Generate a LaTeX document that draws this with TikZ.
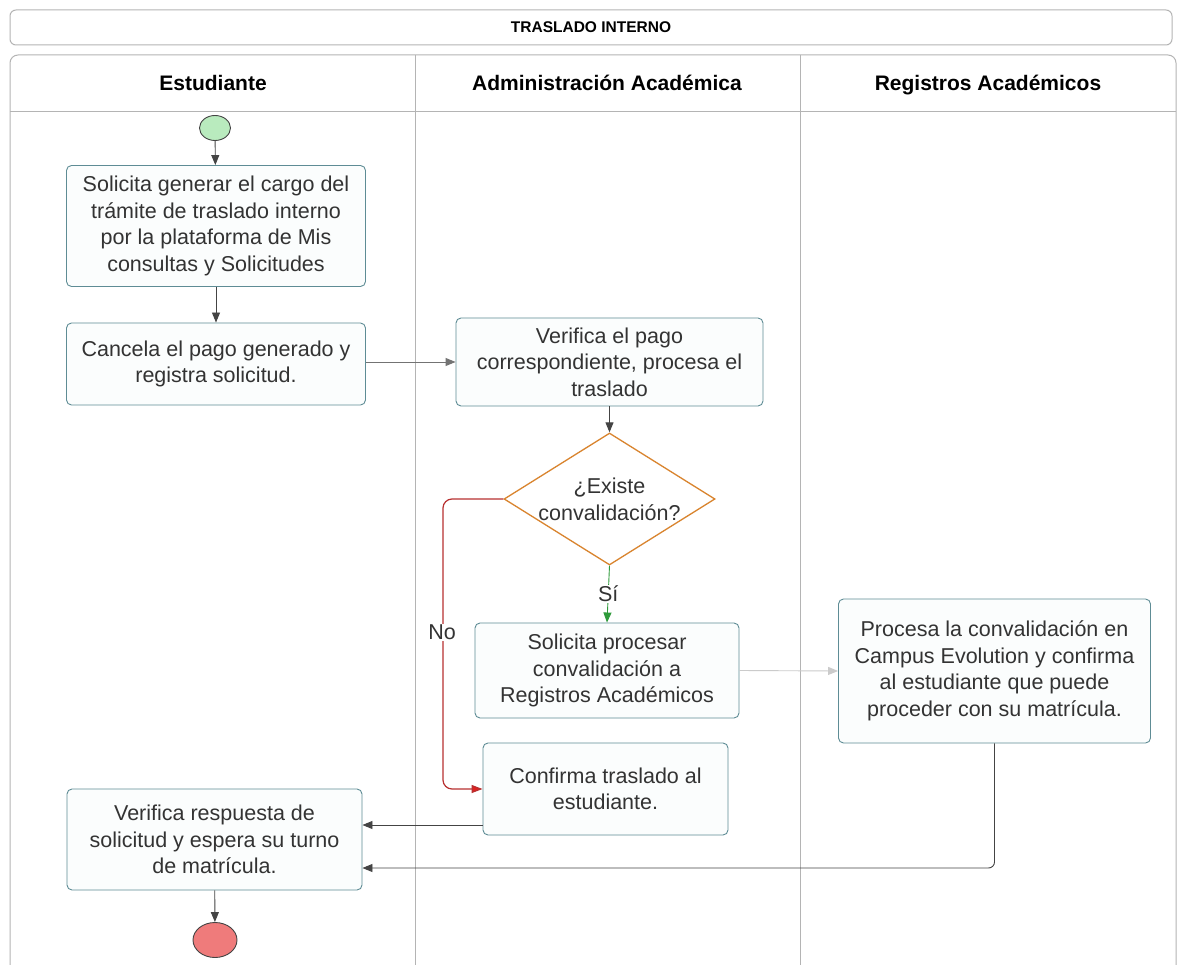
\documentclass[tikz,border=0pt]{standalone}
\usepackage{fontspec}
\setmainfont{Liberation Sans}
\usetikzlibrary{shapes.geometric,arrows.meta}
\definecolor{laneline}{HTML}{B4B4B4}
\definecolor{boxline}{HTML}{5E8C95}
\definecolor{boxfill}{HTML}{FBFDFD}
\definecolor{decline}{HTML}{D9842E}
\definecolor{flowline}{HTML}{444444}
\definecolor{noline}{HTML}{B83030}
\definecolor{notip}{HTML}{E02020}
\definecolor{yesline}{HTML}{2E9A3A}
\definecolor{startfill}{HTML}{B9EBBE}
\definecolor{endfill}{HTML}{EF7B7B}
\definecolor{txt}{HTML}{333333}
\tikzset{
  stepbox/.style={draw=boxline, fill=boxfill, rounded corners=5pt, line width=0.9pt,
    align=center, inner sep=0pt, font=\fontsize{21.5}{26.5}\selectfont, text=txt},
  decision/.style={diamond, draw=decline, fill=white, line width=1.3pt, aspect=1.6,
    align=center, inner sep=0pt, font=\fontsize{21.5}{27}\selectfont, text=txt},
  lanehead/.style={anchor=base, font=\bfseries\fontsize{21}{24}\selectfont, text=black},
  flow/.style={draw=flowline, line width=0.9pt, -{Triangle[length=10pt,width=8pt]}},
  lanestroke/.style={draw=laneline, line width=1pt},
  flowlabel/.style={fill=white, inner sep=1pt, font=\fontsize{21.5}{24}\selectfont, text=txt},
}
\begin{document}
\begin{tikzpicture}[x=1pt,y=-1pt]
\useasboundingbox (0,0) rectangle (1178,965);
\fill[white] (0,0) rectangle (1178,965);
% title bar
\node[draw=laneline, line width=1pt, rounded corners=6pt, minimum width=1162pt, minimum height=35pt,
  font=\bfseries\fontsize{15.5}{17}\selectfont, inner sep=0pt] (title) at (591,27.5) {TRASLADO INTERNO};
% pool with three lanes
\begin{scope}
\clip (0,0) rectangle (1178,965);
\draw[lanestroke, rounded corners=8pt] (10,985) -- (10,55) -- (1176,55) -- (1176,985);
\draw[lanestroke] (10,112) -- (1176,112);
\draw[lanestroke] (415,55) -- (415,965);
\draw[lanestroke] (800,55) -- (800,965);
\end{scope}
\node[lanehead] (h1) at (213,91) {Estudiante};
\node[lanehead] (h2) at (607,91) {Administración Académica};
\node[lanehead] (h3) at (988,91) {Registros Académicos};
% start / end events
\node[ellipse, draw=flowline, fill=startfill, line width=0.9pt, minimum width=31pt, minimum height=25pt, inner sep=0pt] (start) at (215,128) {};
\node[ellipse, draw=flowline, fill=endfill, line width=0.9pt, minimum width=44pt, minimum height=35pt, inner sep=0pt] (stop) at (215,940) {};
% activities
\node[stepbox, minimum width=299pt, minimum height=121pt] (b1) at (216,226) {Solicita generar el cargo del\\trámite de traslado interno\\por la plataforma de Mis\\consultas y Solicitudes};
\node[stepbox, minimum width=299pt, minimum height=82pt] (b2) at (216,364) {Cancela el pago generado y\\registra solicitud.};
\node[stepbox, minimum width=307pt, minimum height=88pt] (b3) at (609.5,362) {Verifica el pago\\correspondiente, procesa el\\traslado};
\node[decision, minimum width=211pt, minimum height=132pt] (d1) at (609.5,499) {¿Existe\\convalidación?};
\node[stepbox, minimum width=264pt, minimum height=95pt] (b4) at (607,670.5) {Solicita procesar\\convalidación a\\Registros Académicos};
\node[stepbox, minimum width=245pt, minimum height=92pt] (b5) at (605.5,789) {Confirma traslado al\\estudiante.};
\node[stepbox, minimum width=312pt, minimum height=144pt] (b6) at (994.5,671) {Procesa la convalidación en\\Campus Evolution y confirma\\al estudiante que puede\\proceder con su matrícula.};
\node[stepbox, minimum width=295pt, minimum height=101pt] (b7) at (214.5,839.5) {Verifica respuesta de\\solicitud y espera su turno\\de matrícula.};
% connectors
\draw[flow] (start) -- (b1);
\draw[flow] (b1) -- (b2);
\draw[flow, draw=flowline!75] (b2.east |- 0,362) -- (b3.west |- 0,362);
\draw[flow] (b3.south) -- (d1.north);
\draw[flow, draw=yesline] (d1.south) -- node[flowlabel] (yes) {Sí} (b4.north);
\coordinate (nobend) at (443,640);
\draw[draw=noline, line width=1.2pt, rounded corners=9pt, -{Triangle[length=11pt,width=8pt,fill=notip]}]
  (d1.west) -| (nobend) |- (b5.west);
\node[flowlabel] (no) at (442,632) {No};
\draw[flow, draw=laneline!70] (b4.east) -- (b6.west);
\draw[flow] (b5.west |- 0,825) -- (b7.east |- 0,825);
\draw[flow, rounded corners=6pt] (b6.south) |- (b7.east |- 0,868);
\draw[flow] (b7) -- (stop);
\end{tikzpicture}
\end{document}
